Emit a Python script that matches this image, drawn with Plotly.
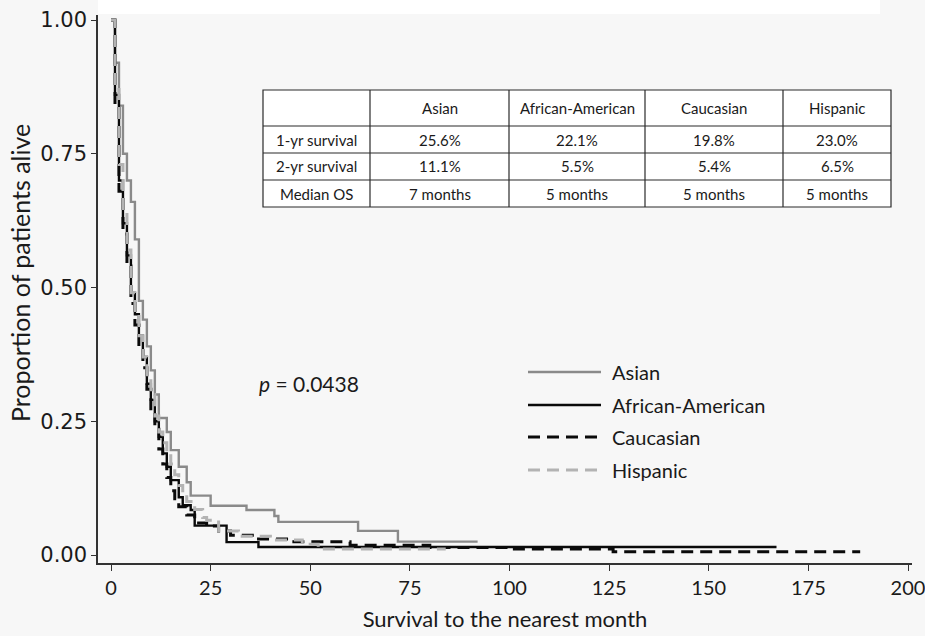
import plotly.graph_objects as go

# ---------------- data ----------------
asian_t = [0, 1, 2, 3, 4, 5, 6, 7, 8, 9, 10, 11, 12, 14, 15, 17, 19, 20, 25, 34, 41, 42, 62, 72, 92]
asian_s = [1.0, 0.92, 0.84, 0.75, 0.70, 0.66, 0.59, 0.475, 0.44, 0.39, 0.345, 0.30, 0.256,
           0.23, 0.196, 0.165, 0.136, 0.111, 0.092, 0.084, 0.073, 0.062, 0.045, 0.025, 0.025]

aa_t = [0, 1, 2, 3, 4, 5, 6, 7, 8, 9, 10, 11, 12, 13, 14, 15, 17, 18, 20, 21, 29, 37, 167]
aa_s = [1.0, 0.86, 0.70, 0.62, 0.56, 0.49, 0.45, 0.41, 0.37, 0.32, 0.29, 0.25, 0.221, 0.19,
        0.165, 0.14, 0.108, 0.093, 0.084, 0.055, 0.024, 0.015, 0.015]

cauc_t = [0, 1, 2, 3, 4, 5, 6, 7, 8, 9, 10, 11, 12, 13, 14, 15, 16, 17, 19, 21, 24, 27, 30,
          36, 45, 60, 80, 100, 126, 188]
cauc_s = [1.0, 0.84, 0.68, 0.60, 0.54, 0.47, 0.43, 0.39, 0.35, 0.31, 0.27, 0.235, 0.198, 0.17,
          0.145, 0.12, 0.105, 0.09, 0.075, 0.06, 0.054, 0.045, 0.037, 0.03, 0.025, 0.018,
          0.014, 0.011, 0.006, 0.006]

hisp_t = [0, 1, 2, 3, 4, 5, 6, 7, 8, 9, 10, 11, 12, 13, 14, 15, 16, 17, 18, 19, 21, 23, 24,
          27, 32, 40, 48, 52, 84]
hisp_s = [1.0, 0.87, 0.73, 0.64, 0.57, 0.49, 0.45, 0.41, 0.37, 0.33, 0.30, 0.26, 0.23, 0.21,
          0.19, 0.17, 0.15, 0.13, 0.115, 0.10, 0.085, 0.07, 0.065, 0.045, 0.035, 0.028, 0.02,
          0.011, 0.011]

groups = ["Asian", "African-American", "Caucasian", "Hispanic"]
x_ticks = [0, 25, 50, 75, 100, 125, 150, 175, 200]
y_ticks = [0.0, 0.25, 0.50, 0.75, 1.00]
y_tick_labels = ["0.00", "0.25", "0.50", "0.75", "1.00"]

table_header = ["", "Asian", "African-American", "Caucasian", "Hispanic"]
table_rows = [
    ["1-yr survival", "25.6%", "22.1%", "19.8%", "23.0%"],
    ["2-yr survival", "11.1%", "5.5%", "5.4%", "6.5%"],
    ["Median OS", "7 months", "5 months", "5 months", "5 months"],
]
p_value_text = "<i>p</i> = 0.0438"

# ---------------- styles / layout constants ----------------
W, H = 925, 636
L, R, T, B = 98, 912, 15, 563           # plot area in pixels
BG = "#f7f7f7"
TXT_FONT = "Lato, 'Open Sans', sans-serif"
styles = {
    "Asian": dict(color="#8a8a8a", width=2.4, dash="solid"),
    "African-American": dict(color="#0a0a0a", width=2.4, dash="solid"),
    "Caucasian": dict(color="#0a0a0a", width=3, dash="12px,7px"),
    "Hispanic": dict(color="#b3b3b3", width=3, dash="12px,7px"),
}


def px_x(p):
    return (p - L) / (R - L)


def px_y(p):
    return (B - p) / (B - T)


series = {
    "Asian": (asian_t, asian_s),
    "African-American": (aa_t, aa_s),
    "Caucasian": (cauc_t, cauc_s),
    "Hispanic": (hisp_t, hisp_s),
}

fig = go.Figure()
for g in groups:
    t, s = series[g]
    st = styles[g]
    fig.add_trace(go.Scatter(
        x=t, y=s, mode="lines", name=g, showlegend=False,
        line=dict(shape="hv", color=st["color"], width=st["width"], dash=st["dash"]),
        hoverinfo="x+y+name",
    ))

shapes = []
annotations = []

# white strip at very top
shapes.append(dict(type="rect", xref="paper", yref="paper", x0=px_x(98), x1=px_x(880),
                   y0=px_y(14), y1=px_y(0), fillcolor="#ffffff", line=dict(width=0),
                   layer="below"))

# ---- table ----
col_px = [263, 370, 509, 645, 783, 891]
row_px = [90, 126, 153, 180, 207]
shapes.append(dict(type="rect", xref="paper", yref="paper",
                   x0=px_x(col_px[0]), x1=px_x(col_px[-1]),
                   y0=px_y(row_px[-1]), y1=px_y(row_px[0]),
                   fillcolor="#ffffff", line=dict(color="#2a2a2a", width=1.2)))
for cx in col_px[1:-1]:
    shapes.append(dict(type="line", xref="paper", yref="paper", x0=px_x(cx), x1=px_x(cx),
                       y0=px_y(row_px[-1]), y1=px_y(row_px[0]),
                       line=dict(color="#2a2a2a", width=1.2)))
for ry in row_px[1:-1]:
    shapes.append(dict(type="line", xref="paper", yref="paper", x0=px_x(col_px[0]),
                       x1=px_x(col_px[-1]), y0=px_y(ry), y1=px_y(ry),
                       line=dict(color="#2a2a2a", width=1.2)))
all_rows = [table_header] + table_rows
for ri, row in enumerate(all_rows):
    cy = (row_px[ri] + row_px[ri + 1]) / 2
    for ci, txt in enumerate(row):
        if not txt:
            continue
        cx = (col_px[ci] + col_px[ci + 1]) / 2
        annotations.append(dict(text=txt, xref="paper", yref="paper", x=px_x(cx), y=px_y(cy),
                                xanchor="center", yanchor="middle", showarrow=False,
                                font=dict(family=TXT_FONT, size=15, color="#1a1a1a")))

# ---- legend (custom, long line samples) ----
leg_y = [372, 405, 437, 470]
for g, ly in zip(groups, leg_y):
    st = styles[g]
    shapes.append(dict(type="line", xref="paper", yref="paper", x0=px_x(528), x1=px_x(601),
                       y0=px_y(ly), y1=px_y(ly),
                       line=dict(color=st["color"], width=st["width"], dash=st["dash"])))
    annotations.append(dict(text=g, xref="paper", yref="paper", x=px_x(610), y=px_y(ly),
                            xanchor="left", yanchor="middle", showarrow=False,
                            font=dict(family=TXT_FONT, size=20, color="#1a1a1a")))

# ---- p value ----
annotations.append(dict(text=p_value_text, xref="paper", yref="paper", x=px_x(257),
                        y=px_y(383), xanchor="left", yanchor="middle", showarrow=False,
                        font=dict(family=TXT_FONT, size=21, color="#1a1a1a")))

# ---- y axis title ----
annotations.append(dict(text="Proportion of patients alive", xref="paper", yref="paper",
                        x=px_x(20), y=px_y(273), xanchor="center", yanchor="middle",
                        textangle=-90, showarrow=False,
                        font=dict(family=TXT_FONT, size=25, color="#1a1a1a")))

# axis ranges so that 0 -> px 111 and 200 -> px 908; 1 -> px 20 and 0 -> px 555
xs = (908 - 111) / 200.0
x0 = -(111 - L) / xs
x1 = x0 + (R - L) / xs
ys = (555 - 20) / 1.0
y0 = -(B - 555) / ys
y1 = 1 + (20 - T) / ys

fig.update_layout(
    width=W, height=H,
    margin=dict(l=L, r=W - R, t=T, b=H - B, pad=0, autoexpand=False),
    paper_bgcolor=BG, plot_bgcolor=BG,
    shapes=shapes, annotations=annotations,
    showlegend=False,
    xaxis=dict(range=[x0, x1], tickvals=x_ticks, ticks="outside", ticklen=6, tickwidth=1.2,
               tickcolor="#333", showline=True, linecolor="#333", linewidth=1.5,
               showgrid=False, zeroline=False, ticklabeloverflow="allow",
               tickfont=dict(family=TXT_FONT, size=20, color="#1a1a1a"),
               title=dict(text="Survival to the nearest month", standoff=14,
                          font=dict(family=TXT_FONT, size=22, color="#1a1a1a"))),
    yaxis=dict(range=[y0, y1], tickvals=y_ticks, ticktext=y_tick_labels, ticks="outside",
               ticklen=5, tickwidth=1.2, tickcolor="#333", showline=True, linecolor="#333",
               linewidth=1.5, showgrid=False, zeroline=False,
               tickfont=dict(family="'DejaVu Sans', Verdana, sans-serif", size=21,
                             color="#1a1a1a")),
)

fig.write_html("out.html", config={"displayModeBar": False},
               post_script="document.body.style.margin='0px';document.body.style.padding='0px';")
